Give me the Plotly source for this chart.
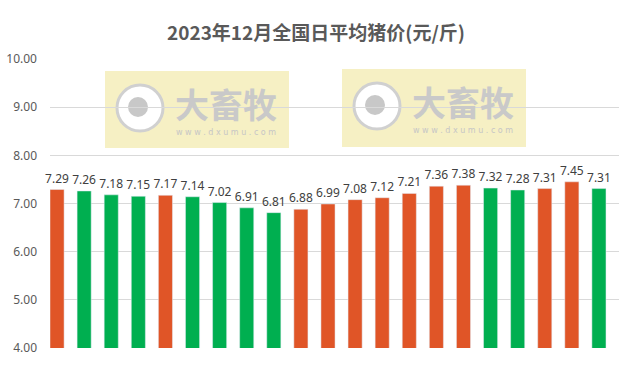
import plotly.graph_objects as go

days = [f"12-{d:02d}" for d in range(1, 22)]
prices = [7.29, 7.26, 7.18, 7.15, 7.17, 7.14, 7.02, 6.91, 6.81, 6.88,
          6.99, 7.08, 7.12, 7.21, 7.36, 7.38, 7.32, 7.28, 7.31, 7.45, 7.31]
direction = ["up", "down", "down", "down", "up", "down", "down", "down", "down", "up",
             "up", "up", "up", "up", "up", "up", "down", "down", "up", "up", "down"]
y_ticks = [4, 5, 6, 7, 8, 9, 10]
title_text = "2023年12月全国日平均猪价(元/斤)"

RED = "#E05527"
GREEN = "#00AF50"
colors = [RED if d == "up" else GREEN for d in direction]

W, H = 632, 374
L, R, T, B = 50, 13, 59, 26

fig = go.Figure()
fig.add_trace(go.Bar(
    x=days, y=prices, marker_color=colors, width=0.52,
    text=[f"{v:.2f}" for v in prices], textposition="outside", constraintext="none",
    textfont=dict(family="Noto Sans, Liberation Sans", size=12, color="#404040"),
    cliponaxis=False,
))

def px2paper(x, y):
    return (x - L) / (W - L - R), 1 - (y - T) / (H - T - B)

shapes = []
annotations = []
for (bx0, by0, bx1, by1) in [(105, 71, 289, 148), (342, 69, 526, 147)]:
    x0, y0 = px2paper(bx0, by0)
    x1, y1 = px2paper(bx1, by1)
    shapes.append(dict(type="rect", xref="paper", yref="paper", x0=x0, y0=y1, x1=x1, y1=y0,
                       fillcolor="#F6F0C4", line=dict(width=0), layer="below"))
    cx, cy, r = bx0 + 35, by0 + 37, 23
    a0, b0 = px2paper(cx - r, cy - r)
    a1, b1 = px2paper(cx + r, cy + r)
    shapes.append(dict(type="circle", xref="paper", yref="paper", x0=a0, y0=b1, x1=a1, y1=b0,
                       fillcolor="#FFFFFF", line=dict(color="#D0D0D0", width=3), layer="below"))
    r2 = 10
    a0, b0 = px2paper(cx - 2 - r2, cy - 1 - r2)
    a1, b1 = px2paper(cx - 2 + r2, cy - 1 + r2)
    shapes.append(dict(type="circle", xref="paper", yref="paper", x0=a0, y0=b1, x1=a1, y1=b0,
                       fillcolor="#C8C8C8", line=dict(width=0), layer="below"))
    tx, ty = px2paper(bx0 + 121, by0 + 32)
    annotations.append(dict(xref="paper", yref="paper", x=tx, y=ty, xanchor="center", yanchor="middle",
                            text="<b>大畜牧</b>", showarrow=False,
                            font=dict(family="Noto Sans CJK SC", size=34, color="#C9C9C9")))
    tx, ty = px2paper(bx0 + 121, by0 + 61)
    annotations.append(dict(xref="paper", yref="paper", x=tx, y=ty, xanchor="center", yanchor="middle",
                            text="w w w . d x u m u . c o m", showarrow=False,
                            font=dict(family="DejaVu Sans", size=8, color="#C6C6C6")))

fig.update_layout(
    width=W, height=H,
    margin=dict(l=L, r=R, t=T, b=B),
    paper_bgcolor="white", plot_bgcolor="rgba(0,0,0,0)",
    showlegend=False,
    title=dict(text=f"<b>{title_text}</b>", x=0.5, xanchor="center", y=1 - 33 / H, yanchor="middle",
               font=dict(family="Noto Sans CJK SC", size=19, color="#595959")),
    shapes=shapes, annotations=annotations,
    xaxis=dict(type="category", range=[-0.26, 20.74], showticklabels=False, showgrid=False,
               zeroline=False, showline=False, automargin=False),
    yaxis=dict(range=[4, 10], tickvals=y_ticks, ticktext=[f"{v:.2f}" for v in y_ticks],
               showgrid=True, gridcolor="#D9D9D9", gridwidth=1, zeroline=False, showline=False,
               ticks="", ticklabelstandoff=12, automargin=False,
               tickfont=dict(family="Noto Sans, Liberation Sans", size=12, color="#595959")),
)

fig.write_html("out.html")
